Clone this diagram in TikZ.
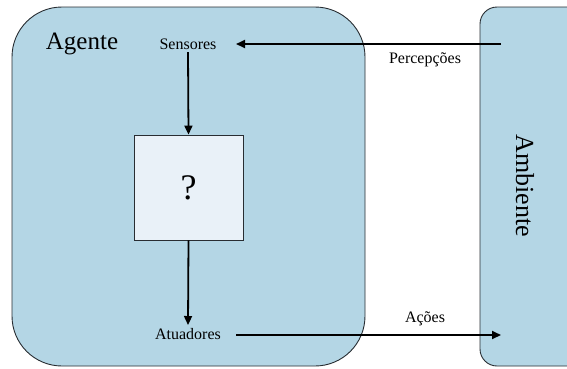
\documentclass[tikz,border=0pt]{standalone}
\usepackage{fontspec}
\setmainfont{Liberation Serif}
\usetikzlibrary{arrows.meta}
\definecolor{envblue}{RGB}{180,214,229}
\definecolor{boxfill}{RGB}{233,241,248}
\definecolor{edge}{RGB}{40,45,50}
\tikzset{
  panel/.style={draw=edge, line width=0.9pt, fill=envblue},
  flow/.style={line width=1.8pt, -{Triangle[length=9pt,width=8pt]}},
  lbl/.style={font=\fontsize{16}{18}\selectfont, inner sep=0pt},
}
\begin{document}
\begin{tikzpicture}[x=1pt,y=-1pt]
  \useasboundingbox (0,0) rectangle (567,368);
  \clip (0,0) rectangle (567,368);
  % agent and environment panels
  \draw[panel, rounded corners=50pt] (12,7) rectangle (365,366);
  \draw[panel, rounded corners=17pt] (480,7) rectangle (620,366);
  \node[font=\fontsize{25}{28}\selectfont, inner sep=0pt] (agente) at (82,44) {Agente};
  \node[font=\fontsize{26}{28}\selectfont, inner sep=0pt, rotate=-90] (ambiente) at (525,186) {Ambiente};
  % internal nodes
  \node[lbl] (sensores) at (188,44) {Sensores};
  \node[draw=edge, line width=0.9pt, fill=boxfill, minimum width=109pt, minimum height=105pt, inner sep=0pt,
        font=\fontsize{36}{38}\selectfont] (box) at (188.5,187.5) {?};
  \node[lbl] (atuadores) at (188,334) {Atuadores};
  % connectors
  \coordinate (pin) at (501,44);
  \coordinate (pout) at (501,335);
  \coordinate (sin) at (236,44);
  \coordinate (aout) at (236,335);
  \coordinate (sdown) at (188,52);
  \coordinate (aup) at (188,325);
  \draw[flow] (pin) -- (sin);
  \draw[flow] (sdown) -- (box.north);
  \draw[flow] (box.south) -- (aup);
  \draw[flow] (aout) -- (pout);
  \node[lbl] (percepcoes) at (425,60) {Percepções};
  \node[lbl] (acoes) at (425,319) {Ações};
\end{tikzpicture}
\end{document}
